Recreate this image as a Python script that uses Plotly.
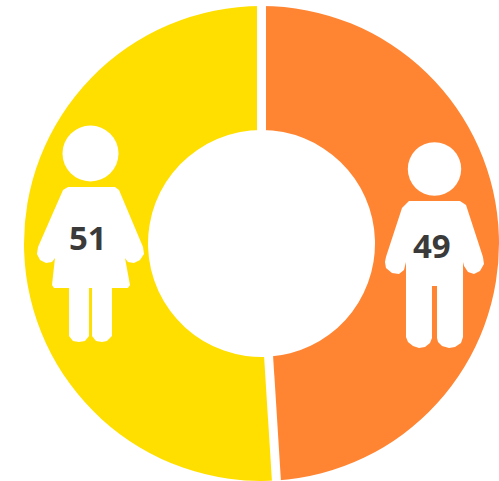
import math
import plotly.graph_objects as go

labels = ["Male", "Female"]
values = [49, 51]
colors = ["#FF8533", "#FFDF00"]
text_labels = ["49", "51"]

W, H = 499, 481
cx, cy, R = 261.5, 243.5, 237.5
hole_r = 113.5

fig = go.Figure(go.Pie(
    labels=labels, values=values, hole=hole_r / R, sort=False, direction="clockwise",
    rotation=0, textinfo="none", hoverinfo="label+value",
    marker=dict(colors=colors, line=dict(width=0)),
    showlegend=False,
    domain=dict(x=[(cx-R)/W, (cx+R)/W], y=[1-(cy+R)/H, 1-(cy-R)/H]),
))

def px(x): return x / W
def py(y): return 1 - y / H
shapes = []
def ell(xc, yc, r):
    shapes.append(dict(type="circle", xref="paper", yref="paper", x0=px(xc-r), x1=px(xc+r),
                       y0=py(yc+r), y1=py(yc-r), fillcolor="white", line_width=0))
def path(pts):
    d = "M" + " L".join(f"{px(x):.4f},{py(y):.4f}" for x, y in pts) + " Z"
    shapes.append(dict(type="path", xref="paper", yref="paper", path=d, fillcolor="white",
                       line_width=0))

# slice separators, from the values
total = sum(values)
ang = 0.0
for v in values:
    a = 2 * math.pi * ang / total
    shapes.append(dict(type="line", xref="paper", yref="paper",
                       x0=px(cx + (hole_r-2)*math.sin(a)), y0=py(cy - (hole_r-2)*math.cos(a)),
                       x1=px(cx + (R+3)*math.sin(a)), y1=py(cy - (R+3)*math.cos(a)),
                       line=dict(color="white", width=9)))
    ang += v

# female icon
ell(90.5, 153.5, 28)
path([(68,187),(115,187),(119,190),(143,247),(144,254),(140,260),(134,263),(128,262),(125,258),
      (130,285),(128,288),(112,288),(112,336),(107,341),(102,342),(96,341),(92,336),(92,288),(89,288),
      (89,336),(85,341),(79,342),(73,341),(69,336),(69,288),(54,288),(52,285),(55,258),(52,262),(46,263),(40,260),(37,254),(38,247),(63,190)])

# male icon
ell(434.5, 169, 26.7)
path([(409,201),(460,201),(466,205),(483,257),(484,264),(480,271),(474,274),(468,272),(464,266),(463,262),
      (463,337),(461,343),(455,347),(449,348),(442,346),(438,342),(437,338),(437,286),(432,286),
      (432,338),(430,343),(425,347),(419,348),(413,346),(408,342),(406,337),(406,262),(404,270),(399,274),(392,273),
      (386,268),(385,262),(386,257),(402,208)])

fig.update_layout(
    width=W, height=H, margin=dict(l=0, r=0, t=0, b=0), paper_bgcolor="white",
    shapes=shapes,
    annotations=[
        dict(x=px(88), y=py(237.5), xref="paper", yref="paper", xanchor="center", yanchor="middle",
             text=f"<b>{text_labels[1]}</b>", showarrow=False,
             font=dict(family="Open Sans", size=33, color="#3A3A3A")),
        dict(x=px(432), y=py(245), xref="paper", yref="paper", xanchor="center", yanchor="middle",
             text=f"<b>{text_labels[0]}</b>", showarrow=False,
             font=dict(family="Open Sans", size=33, color="#3A3A3A")),
    ],
)
fig.write_html("out.html", config=dict(displayModeBar=False),
               post_script="document.body.style.margin='0';document.body.style.overflow='hidden';")
